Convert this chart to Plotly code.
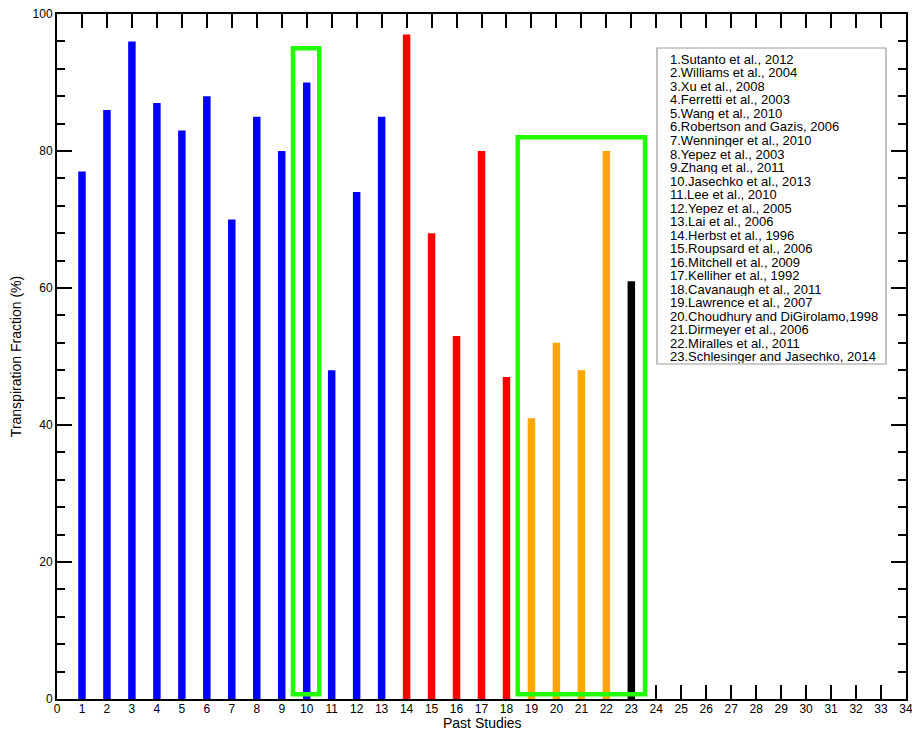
import plotly.graph_objects as go

# ---------------- data ----------------
studies = list(range(1, 24))
fractions = [77, 86, 96, 87, 83, 88, 70, 85, 80, 90, 48, 74, 85,
             97, 68, 53, 80, 47,
             41, 52, 48, 80,
             61]
groups = ["blue"] * 13 + ["red"] * 5 + ["orange"] * 4 + ["black"]
group_colors = {"blue": "#0000ff", "red": "#ff0000", "orange": "#ffa500", "black": "#000000"}

references = [
    "1.Sutanto et al., 2012",
    "2.Williams et al., 2004",
    "3.Xu et al., 2008",
    "4.Ferretti et al., 2003",
    "5.Wang et al., 2010",
    "6.Robertson and Gazis, 2006",
    "7.Wenninger et al., 2010",
    "8.Yepez et al., 2003",
    "9.Zhang et al., 2011",
    "10.Jasechko et al., 2013",
    "11.Lee et al., 2010",
    "12.Yepez et al., 2005",
    "13.Lai et al., 2006",
    "14.Herbst et al., 1996",
    "15.Roupsard et al., 2006",
    "16.Mitchell et al., 2009",
    "17.Kelliher et al., 1992",
    "18.Cavanaugh et al., 2011",
    "19.Lawrence et al., 2007",
    "20.Choudhury and DiGirolamo,1998",
    "21.Dirmeyer et al., 2006",
    "22.Miralles et al., 2011",
    "23.Schlesinger and Jasechko, 2014",
]

x_tick_values = list(range(0, 35))
y_tick_values = [0, 20, 40, 60, 80, 100]

# highlighted groups of studies (green boxes)
highlight_x0 = [9.45, 18.45]
highlight_x1 = [10.5, 23.55]
highlight_y0 = [0.7, 0.7]
highlight_y1 = [95, 82]

# ---------------- layout geometry ----------------
W, H = 912, 731
ML, MR, MT, MB = 57, 6, 14, 32
PW = W - ML - MR
PH = H - MT - MB


def px_to_paper_x(px):
    return (px - ML) / PW


def px_to_paper_y(py):
    return (H - MB - py) / PH


FONT = "Liberation Sans, Arial, Helvetica, sans-serif"

fig = go.Figure()

for g in ["blue", "red", "orange", "black"]:
    xs = [s for s, gg in zip(studies, groups) if gg == g]
    ys = [v for v, gg in zip(fractions, groups) if gg == g]
    fig.add_trace(go.Bar(
        x=xs, y=ys, width=0.3,
        marker=dict(color=group_colors[g], line=dict(width=0)),
        showlegend=False, hoverinfo="x+y",
    ))

for x0, x1, y0, y1 in zip(highlight_x0, highlight_x1, highlight_y0, highlight_y1):
    fig.add_shape(type="rect", xref="x", yref="y", x0=x0, x1=x1, y0=y0, y1=y1,
                  line=dict(color="#22ff00", width=4.5), fillcolor="rgba(0,0,0,0)",
                  layer="above")

# reference list box
box_left, box_right, box_top, box_bottom = 657, 886, 48, 364
fig.add_shape(type="rect", xref="paper", yref="paper",
              x0=px_to_paper_x(box_left), x1=px_to_paper_x(box_right),
              y0=px_to_paper_y(box_bottom), y1=px_to_paper_y(box_top),
              line=dict(color="#999999", width=1.2), fillcolor="white", layer="above")
line_h = 13.53
first_center = 59.3
for i, ref in enumerate(references):
    fig.add_annotation(
        x=px_to_paper_x(669), y=px_to_paper_y(first_center + i * line_h),
        xref="paper", yref="paper", xanchor="left", yanchor="middle",
        text=ref, showarrow=False, height=13, valign="middle", borderpad=0,
        font=dict(family=FONT, size=13, color="black"),
    )

# x-axis title placed as annotation just above the bottom edge
fig.add_annotation(
    x=px_to_paper_x(482), y=px_to_paper_y(731),
    xref="paper", yref="paper", xanchor="center", yanchor="bottom",
    text="Past Studies", showarrow=False, height=14, valign="middle", borderpad=0,
    font=dict(family=FONT, size=14, color="black"),
)

fig.update_layout(
    width=W, height=H,
    margin=dict(l=ML, r=MR, t=MT, b=MB, autoexpand=False),
    paper_bgcolor="white", plot_bgcolor="white",
    barmode="overlay",
    font=dict(family=FONT, size=12, color="black"),
    showlegend=False,
)

fig.update_xaxes(
    range=[0, 34], tickmode="array", tickvals=x_tick_values,
    ticktext=[str(v) for v in x_tick_values],
    ticks="inside", ticklen=14, tickwidth=1.5, tickcolor="black",
    showline=True, linewidth=2, linecolor="black", mirror="ticks",
    showgrid=False, zeroline=False, layer="below traces",
    tickfont=dict(family=FONT, size=12, color="black"),
    ticklabeloverflow="allow", ticklabelstandoff=-2,
    automargin=False,
)

fig.update_yaxes(
    range=[0, 100], tickmode="array", tickvals=y_tick_values,
    ticks="inside", ticklen=15, tickwidth=1.5, tickcolor="black",
    minor=dict(dtick=4, tick0=0, ticks="inside", ticklen=8, tickwidth=1.5, tickcolor="black"),
    showline=True, linewidth=2, linecolor="black", mirror="ticks",
    showgrid=False, zeroline=False, layer="below traces",
    tickfont=dict(family=FONT, size=12, color="black"),
    title=dict(text="Transpiration Fraction (%)", font=dict(family=FONT, size=14, color="black"), standoff=8),
    automargin=False,
)

fig.write_html(
    "out.html",
    config={"displayModeBar": False},
    post_script="document.body.style.margin='0';document.body.style.overflow='hidden';",
)
